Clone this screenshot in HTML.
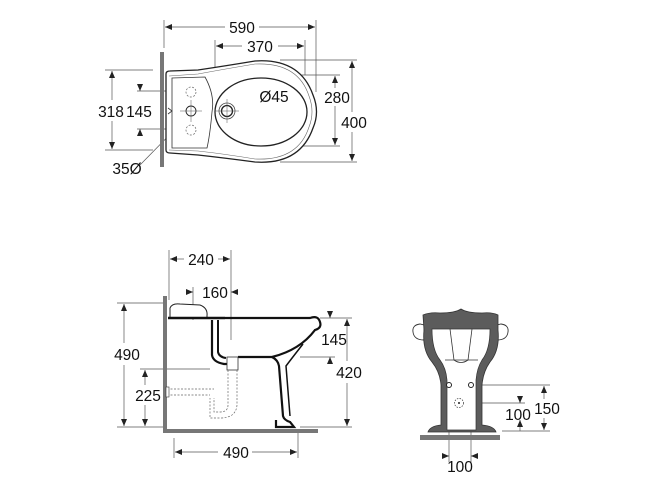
<!DOCTYPE html>
<html><head><meta charset="utf-8"><style>
html,body{margin:0;padding:0;background:#fff;}
svg{display:block;}
text{font-family:"Liberation Sans",sans-serif;font-size:15.5px;fill:#111;}
</style></head><body>
<svg width="645" height="492" viewBox="0 0 645 492" xmlns="http://www.w3.org/2000/svg">
<defs>
<marker id="a" markerWidth="7" markerHeight="6" refX="7" refY="3" orient="auto-start-reverse" markerUnits="userSpaceOnUse"><path d="M0,0 L7,3 L0,6z" fill="#222"/></marker>
</defs>
<g stroke="#555" stroke-width="0.7" fill="none">
<!-- TOP VIEW dims -->
<line x1="164" y1="20" x2="164" y2="48"/><line x1="316" y1="20" x2="316" y2="92"/>
<line x1="165" y1="27" x2="225" y2="27" marker-start="url(#a)"/><line x1="259" y1="27" x2="315" y2="27" marker-end="url(#a)"/>
<line x1="215" y1="40" x2="215" y2="100"/><line x1="305" y1="40" x2="305" y2="75"/>
<line x1="216" y1="46" x2="242" y2="46" marker-start="url(#a)"/><line x1="278" y1="46" x2="304" y2="46" marker-end="url(#a)"/>
<line x1="290" y1="75" x2="340" y2="75"/><line x1="290" y1="146" x2="340" y2="146"/>
<line x1="335" y1="76" x2="335" y2="88" marker-start="url(#a)"/><line x1="335" y1="106" x2="335" y2="145" marker-end="url(#a)"/>
<line x1="280" y1="60" x2="357" y2="60"/><line x1="280" y1="162" x2="357" y2="162"/>
<line x1="352" y1="61" x2="352" y2="112" marker-start="url(#a)"/><line x1="352" y1="132" x2="352" y2="161" marker-end="url(#a)"/>
<line x1="105" y1="70" x2="153" y2="70"/><line x1="105" y1="150" x2="153" y2="150"/>
<line x1="112" y1="71" x2="112" y2="100" marker-start="url(#a)"/><line x1="112" y1="121" x2="112" y2="149" marker-end="url(#a)"/>
<line x1="137" y1="91" x2="195" y2="91"/><line x1="137" y1="129" x2="195" y2="129"/>
<line x1="140" y1="84" x2="140" y2="91" marker-end="url(#a)"/><line x1="140" y1="136" x2="140" y2="129" marker-end="url(#a)"/>
<line x1="140" y1="165" x2="189" y2="115" marker-end="url(#a)"/>
<line x1="258" y1="96" x2="233" y2="105" marker-end="url(#a)"/>
<!-- SIDE VIEW dims -->
<line x1="169" y1="250" x2="169" y2="300"/><line x1="231" y1="250" x2="231" y2="340"/>
<line x1="170" y1="259" x2="184" y2="259" marker-start="url(#a)"/><line x1="218" y1="259" x2="230" y2="259" marker-end="url(#a)"/>
<line x1="193" y1="287" x2="193" y2="320"/>
<line x1="186" y1="292" x2="193" y2="292" marker-end="url(#a)"/><line x1="238" y1="292" x2="231" y2="292" marker-end="url(#a)"/>
<line x1="117" y1="303" x2="163" y2="303"/><line x1="117" y1="427" x2="163" y2="427"/>
<line x1="124" y1="304" x2="124" y2="343" marker-start="url(#a)"/><line x1="124" y1="365" x2="124" y2="426" marker-end="url(#a)"/>
<line x1="140" y1="369" x2="210" y2="369"/>
<line x1="145" y1="370" x2="145" y2="385" marker-start="url(#a)"/><line x1="145" y1="405" x2="145" y2="426" marker-end="url(#a)"/>
<line x1="320" y1="318" x2="352" y2="318"/><line x1="300" y1="357" x2="335" y2="357"/><line x1="300" y1="427" x2="352" y2="427"/>
<line x1="330" y1="312" x2="330" y2="318" marker-end="url(#a)"/><line x1="330" y1="363" x2="330" y2="357" marker-end="url(#a)"/>
<line x1="347" y1="319" x2="347" y2="361" marker-start="url(#a)"/><line x1="347" y1="383" x2="347" y2="426" marker-end="url(#a)"/>
<line x1="174" y1="438" x2="174" y2="458"/><line x1="298" y1="432" x2="298" y2="458"/>
<line x1="175" y1="452" x2="218" y2="452" marker-start="url(#a)"/><line x1="252" y1="452" x2="297" y2="452" marker-end="url(#a)"/>
<!-- FRONT dims -->
<line x1="482" y1="385" x2="550" y2="385"/><line x1="465" y1="403" x2="525" y2="403"/><line x1="502" y1="431" x2="550" y2="431"/>
<line x1="544" y1="386" x2="544" y2="399" marker-start="url(#a)"/><line x1="544" y1="418" x2="544" y2="430" marker-end="url(#a)"/>
<line x1="520" y1="398" x2="520" y2="403" marker-end="url(#a)"/><line x1="520" y1="420" x2="520" y2="431" marker-start="url(#a)"/>
<line x1="449" y1="385" x2="449" y2="462"/><line x1="471" y1="385" x2="471" y2="462"/>
<line x1="442" y1="456" x2="449" y2="456" marker-end="url(#a)"/><line x1="478" y1="456" x2="471" y2="456" marker-end="url(#a)"/>
</g>
<!-- TOP VIEW drawing -->
<rect x="160" y="52" width="4" height="115" fill="#777"/>
<path d="M166,74 Q166,71 170,71 L198,70 Q225,66 255,61 Q300,58 313,95 Q320,112 313,128 Q300,165 255,162 Q225,158 198,155 L170,153 Q166,153 166,150 Z" fill="#fff" stroke="#222" stroke-width="1.3"/>
<path d="M169,76 L198,74 Q225,69 255,64 Q298,62 309,96 Q315,112 309,127 Q298,161 255,159 Q225,154 198,151 L169,150" fill="none" stroke="#666" stroke-width="0.6"/>
<path d="M172,78 L205,77 Q215,95 212,112 Q210,135 207,148 L172,148 Z" fill="none" stroke="#333" stroke-width="0.8"/>
<ellipse cx="261" cy="112" rx="46" ry="34" fill="none" stroke="#222" stroke-width="1.3"/>
<circle cx="227" cy="111" r="8" fill="none" stroke="#444" stroke-width="0.8"/><circle cx="227" cy="111" r="5.5" fill="none" stroke="#222" stroke-width="1.3"/>
<line x1="215" y1="111" x2="239" y2="111" stroke="#555" stroke-width="0.5"/><line x1="227" y1="99" x2="227" y2="123" stroke="#555" stroke-width="0.5"/>
<circle cx="191" cy="111" r="5" fill="none" stroke="#222" stroke-width="0.9"/>
<line x1="180" y1="111" x2="202" y2="111" stroke="#555" stroke-width="0.5"/><line x1="191" y1="100" x2="191" y2="122" stroke="#555" stroke-width="0.5"/>
<circle cx="191" cy="92" r="5" fill="none" stroke="#666" stroke-width="0.7" stroke-dasharray="2,1.5"/>
<circle cx="191" cy="130" r="5" fill="none" stroke="#666" stroke-width="0.7" stroke-dasharray="2,1.5"/>
<path d="M168,108 L172,111 L168,114" fill="none" stroke="#333" stroke-width="0.8"/>
<!-- SIDE VIEW drawing -->
<rect x="163" y="296" width="4" height="137" fill="#777"/>
<rect x="163" y="429" width="155" height="4" fill="#777"/>
<path d="M170,318 L170,308 Q172,303 180,304 L200,305 Q208,308 207,316 L207,318" fill="#fff" stroke="#222" stroke-width="1"/>
<line x1="168" y1="318" x2="225" y2="318" stroke="#111" stroke-width="2.5"/>
<path d="M225,318 L310,318 Q318,315 320,322 Q322,328 315,330 Q300,350 272,357 L238,357" fill="none" stroke="#111" stroke-width="2.2"/>
<path d="M272,357 Q278,360 279,366 L283,416 Q284,420 290,422 L294,427 L276,427 L276,420" fill="none" stroke="#111" stroke-width="2.2"/>
<path d="M303,344 Q292,358 286,366 L290,416" fill="none" stroke="#111" stroke-width="1.5"/>
<path d="M212,320 L212,355 Q213,362 224,364 L228,364" fill="none" stroke="#111" stroke-width="2.2"/>
<path d="M218,320 L218,352 Q219,357 226,358" fill="none" stroke="#111" stroke-width="2"/>
<rect x="227" y="357" width="11" height="13" fill="#fff" stroke="#333" stroke-width="0.8"/>
<path d="M228,370 L228,405 Q228,412 220,412 L214,412 L214,398 M237,370 L237,405 Q236,418 220,418 L210,418 L210,398" fill="none" stroke="#666" stroke-width="0.7" stroke-dasharray="2,1.5"/>
<path d="M167,389 L214,389 M167,395 L210,395" fill="none" stroke="#666" stroke-width="0.7" stroke-dasharray="2,1.5"/>
<rect x="166" y="387" width="3" height="10" fill="#fff" stroke="#333" stroke-width="0.6"/>
<!-- FRONT VIEW drawing -->
<path d="M413,332 Q412,325 420,324 L424,325 L424,340 Q414,340 413,332 Z M508,332 Q509,325 501,324 L497,325 L497,340 Q507,340 508,332 Z" fill="#fff" stroke="#333" stroke-width="0.9"/>
<path d="M423,315 Q430,312 440,313 Q455,313 461,309 Q467,313 482,313 Q492,312 498,315 L498,330 Q500,350 490,362 Q483,372 482,385 L482,425 Q494,426 496,432 L428,432 Q430,426 441,425 L441,385 Q440,372 432,362 Q422,350 424,330 Z" fill="#5c5c5c" stroke="#333" stroke-width="0.8"/>
<path d="M432,329 L490,329 Q490,350 482,360 Q477,368 476,380 L476,430 L447,430 L447,380 Q446,368 440,360 Q432,350 432,329 Z" fill="#fff" stroke="#333" stroke-width="0.7"/>
<path d="M450,329 L454,360 Q461,365 468,360 L472,329" fill="none" stroke="#333" stroke-width="0.8"/>
<path d="M445,360 L478,360" stroke="#333" stroke-width="0.7"/>
<circle cx="449" cy="385" r="2.5" fill="#fff" stroke="#222" stroke-width="1"/><circle cx="471" cy="385" r="2.5" fill="#fff" stroke="#222" stroke-width="1"/>
<circle cx="459" cy="403" r="4.5" fill="none" stroke="#333" stroke-width="0.7" stroke-dasharray="1.5,1.2"/><circle cx="459" cy="403" r="1" fill="#222"/>
<rect x="420" y="435" width="80" height="5" fill="#777"/>
<!-- TEXT -->
<text x="242" y="33" text-anchor="middle">590</text>
<text x="260" y="52" text-anchor="middle">370</text>
<text x="274" y="102" text-anchor="middle">Ø45</text>
<text x="337" y="103" text-anchor="middle">280</text>
<text x="354" y="128" text-anchor="middle">400</text>
<text x="111" y="117" text-anchor="middle">318</text>
<text x="139" y="117" text-anchor="middle">145</text>
<text x="127" y="174" text-anchor="middle">35Ø</text>
<text x="201" y="265" text-anchor="middle">240</text>
<text x="215" y="298" text-anchor="middle">160</text>
<text x="127" y="360" text-anchor="middle">490</text>
<text x="148" y="401" text-anchor="middle">225</text>
<text x="334" y="345" text-anchor="middle">145</text>
<text x="349" y="378" text-anchor="middle">420</text>
<text x="236" y="458" text-anchor="middle">490</text>
<text x="518" y="420" text-anchor="middle">100</text>
<text x="547" y="414" text-anchor="middle">150</text>
<text x="460" y="472" text-anchor="middle">100</text>
</svg>
</body></html>
